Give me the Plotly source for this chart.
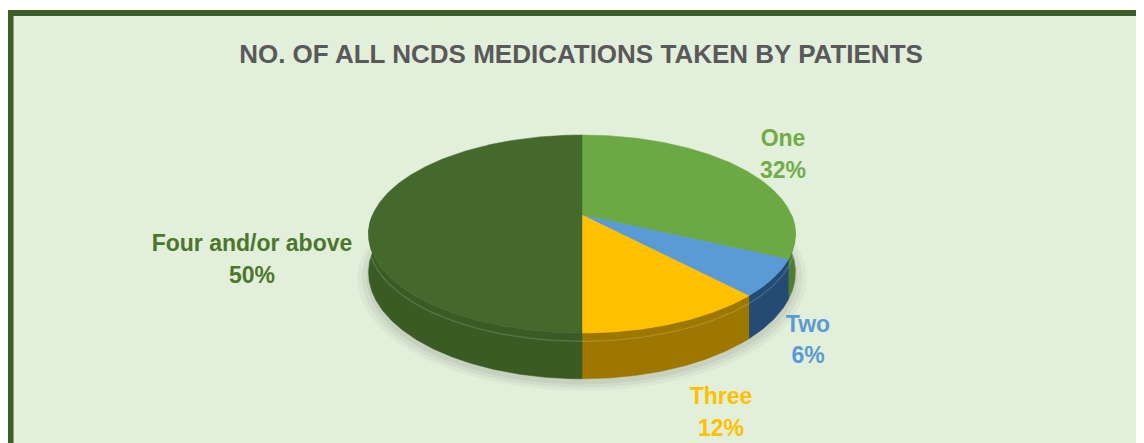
import numpy as np
import plotly.graph_objects as go

# ---------------- data ----------------
categories = ["One", "Two", "Three", "Four and/or above"]
percentages = [32, 6, 12, 50]
title_text = "NO. OF ALL NCDS MEDICATIONS TAKEN BY PATIENTS"

# ---------------- style ----------------
top_colors = ["#6CA844", "#5B9BD5", "#FFC000", "#45692D"]
side_colors = ["#4F7E31", "#244B72", "#9E7700", "#3A5B24"]
label_colors = ["#70AD47", "#5B9BD5", "#FFC000", "#4B772D"]
label_pos = [(783, 140, 172), (808, 326, 357), (721, 398, 430), (252, 245, 277)]
BG = "#E2EFDA"
BORDER = "#3D5E27"
FONT = "Liberation Sans"

# the page body has an 8px margin: the figure fills the rest of the window
OFF = 8
WIN_W, WIN_H = 1144, 443
W, H = WIN_W - OFF, WIN_H - OFF
CX, CY, RX, RY, P, D = 582, 215, 209.5, 95.4, 0.192, 37


def proj(theta_deg, r, h):
    a = np.radians(theta_deg)
    u = r * np.sin(a)
    v = -r * np.cos(a)
    s = 1.0 / (1.0 - P * v)
    return CX + RX * u * s, CY + RY * v * s + D * h * s


fig = go.Figure()

# soft shadow under the pie
full = np.linspace(0, 360, 241)
for grow, alpha in [(1.05, 0.03), (1.03, 0.04), (1.01, 0.05)]:
    xs, ys = proj(full, grow, 1.0)
    ys = ys + 4
    fig.add_trace(go.Scatter(x=xs, y=ys, mode="lines", fill="toself",
                             fillcolor=f"rgba(0,0,0,{alpha})", line=dict(width=0),
                             hoverinfo="skip", showlegend=False))

# slice angles (clockwise from 12 o'clock)
total = sum(percentages)
starts = np.cumsum([0] + percentages[:-1]) / total * 360
ends = np.cumsum(percentages) / total * 360

# side walls (front half only)
for i, (a0, a1) in enumerate(zip(starts, ends)):
    lo, hi = max(a0, 90), min(a1, 270)
    if hi <= lo:
        continue
    arc = np.linspace(lo, hi, max(8, int((hi - lo) * 2)))
    xt, yt = proj(arc, 1, 0)
    xb, yb = proj(arc[::-1], 1, 1)
    fig.add_trace(go.Scatter(x=np.r_[xt, xb, xt[0]], y=np.r_[yt, yb, yt[0]],
                             mode="lines", fill="toself", fillcolor=side_colors[i],
                             line=dict(width=0.5, color=side_colors[i]),
                             hoverinfo="skip", showlegend=False))
    # bevel highlight
    xh, yh = proj(arc, 1, 0.18)
    fig.add_trace(go.Scatter(x=xh, y=yh, mode="lines",
                             line=dict(width=1.5, color="rgba(255,255,255,0.15)"),
                             hoverinfo="skip", showlegend=False))

# top faces
for i, (a0, a1) in enumerate(zip(starts, ends)):
    arc = np.linspace(a0, a1, max(8, int((a1 - a0) * 2)))
    xa, ya = proj(arc, 1, 0)
    x0, y0 = proj(0, 0, 0)
    fig.add_trace(go.Scatter(x=np.r_[x0, xa, x0], y=np.r_[y0, ya, y0],
                             mode="lines", fill="toself", fillcolor=top_colors[i],
                             line=dict(width=0.5, color=top_colors[i]),
                             name=categories[i],
                             hovertemplate=f"{categories[i]}: {percentages[i]}%<extra></extra>",
                             showlegend=False))

# data labels
for i, cat in enumerate(categories):
    lx, ly1, ly2 = label_pos[i]
    fig.add_trace(go.Scatter(x=[lx, lx], y=[ly1, ly2], mode="text",
                             text=[f"<b>{cat}</b>", f"<b>{percentages[i]}%</b>"],
                             textposition="middle center",
                             textfont=dict(family=FONT, size=23, color=label_colors[i]),
                             hoverinfo="skip", showlegend=False, cliponaxis=False))

fig.update_layout(
    width=W, height=H,
    margin=dict(l=0, r=0, t=0, b=0),
    paper_bgcolor="white", plot_bgcolor="rgba(0,0,0,0)",
    xaxis=dict(range=[OFF, WIN_W], visible=False, fixedrange=True),
    yaxis=dict(range=[WIN_H, OFF], visible=False, fixedrange=True),
    title=dict(text=f"<b>{title_text}</b>", x=(581 - OFF) / W, xanchor="center",
               y=1 - (54 - OFF) / H, yanchor="middle",
               font=dict(family=FONT, size=26, color="#595959")),
    shapes=[dict(type="rect", xref="x", yref="y", x0=10.5, y0=13, x1=WIN_W + 20, y1=WIN_H + 20,
                 fillcolor=BG, line=dict(color=BORDER, width=6), layer="below")],
)

fig.write_html("out.html")
